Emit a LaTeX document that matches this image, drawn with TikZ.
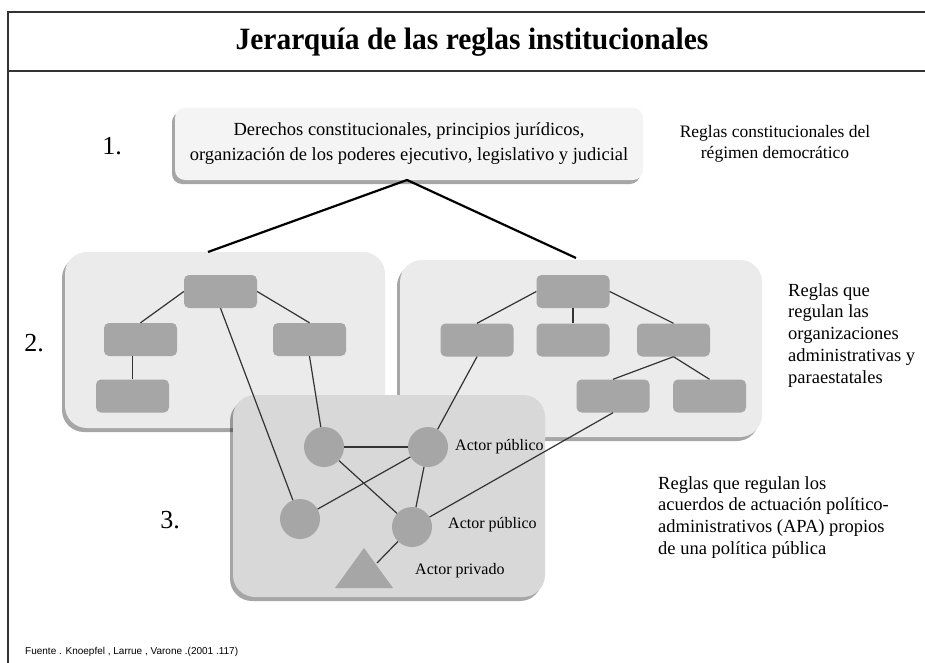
\documentclass[tikz,border=0pt]{standalone}
\usepackage{fontspec}
\setmainfont{Liberation Serif}
\newfontfamily\footfont{Liberation Sans}
\usetikzlibrary{shadows,calc}
\definecolor{panellight}{HTML}{EBEBEB}
\definecolor{paneldark}{HTML}{D8D8D8}
\definecolor{shapegray}{HTML}{A6A6A6}
\definecolor{topbox}{HTML}{F4F4F4}
\definecolor{linegray}{HTML}{333333}
\begin{document}
\begin{tikzpicture}[x=1pt,y=-1pt,
  panel/.style={rounded corners=22pt, inner sep=0pt, fill=panellight,
    drop shadow={shadow xshift=-3pt, shadow yshift=-4pt, fill=black, opacity=0.35}},
  actorpanel/.style={panel, fill=paneldark},
  topboxstyle/.style={rounded corners=10pt, inner sep=0pt, fill=topbox,
    minimum width=468pt, minimum height=72pt, align=center,
    font=\fontsize{18.5}{25}\selectfont,
    drop shadow={shadow xshift=-3pt, shadow yshift=-4pt, fill=black, opacity=0.35}},
  orgbox/.style={rounded corners=5pt, fill=shapegray, minimum width=73pt, minimum height=33pt, inner sep=0pt},
  actor/.style={circle, fill=shapegray, minimum size=40pt, inner sep=0pt},
  link/.style={draw=linegray, line width=1.2pt},
  hier/.style={draw=black, line width=2.2pt},
  frameline/.style={draw=linegray, line width=1.6pt},
  numlabel/.style={font=\fontsize{26}{30}\selectfont, inner sep=0pt},
  sidetext/.style={font=\fontsize{18.5}{21.8}\selectfont, align=left, inner sep=0pt},
  actortext/.style={font=\fontsize{16}{19}\selectfont, inner sep=0pt, anchor=west}
]
\useasboundingbox (0,0) rectangle (925,663);
\fill[white] (0,0) rectangle (925,663);

% frame
\coordinate (ftl) at (8,12);
\coordinate (ftr) at (925,12);
\coordinate (fbl) at (8,663);
\coordinate (fsl) at (8,71);
\coordinate (fsr) at (925,71);
\draw[frameline] (ftr) -- (ftl) -- (fbl);
\draw[frameline] (fsl) -- (fsr);

% title
\node[inner sep=0pt] (title) at (472,42) {\scalebox{0.952}[1]{\fontsize{31}{36}\selectfont\bfseries Jerarquía de las reglas institucionales}};

% level 1
\node[topboxstyle] (box1) at (409,144) {Derechos constitucionales, principios jurídicos,\\organización de los poderes ejecutivo, legislativo y judicial};
\node[numlabel] (n1) at (112,146) {1.};
\node[font=\fontsize{17.5}{21}\selectfont, align=center, inner sep=0pt] (t1) at (775,144) {Reglas constitucionales del\\régimen democrático};

% panels
\node[panel, minimum width=320pt, minimum height=176pt] (P2) at (225,340) {};
\node[panel, minimum width=362pt, minimum height=177pt] (P2b) at (581,348.5) {};

% lines from box1
\coordinate (apex) at (407,180);
\coordinate (hl) at (208,252);
\coordinate (hr) at (576,258);
\draw[hier] (hl) -- (apex) -- (hr);

% left organisation tree
\node[orgbox] (L0) at (220.5,291.5) {};
\node[orgbox] (L1) at (140.5,339.5) {};
\node[orgbox] (L2) at (309.5,339.5) {};
\node[orgbox] (L3) at (132.5,396) {};
% right organisation tree
\node[orgbox] (R0) at (573,291.5) {};
\node[orgbox] (R1) at (477,340) {};
\node[orgbox] (R2) at (573,340) {};
\node[orgbox] (R3) at (673.5,340) {};
\node[orgbox] (R4) at (613,396) {};
\node[orgbox] (R5) at (709.5,396) {};

\draw[link] (L0.west) -- (L1.north);
\draw[link] (L0.east) -- (L2.north);
\draw[link] (L1.south -| L3.north) -- (L3.north);
\draw[link] (R0.west) -- (R1.north);
\draw[link] (R0.south) -- (R2.north);
\draw[link] (R0.east) -- (R3.north);
\draw[link] (R3.south) -- (R4.north);
\draw[link] (R3.south) -- (R5.north);

% actor panel
\node[actorpanel, minimum width=312pt, minimum height=202pt] (P3) at (389,496) {};
\node[actor] (c1) at (324,447) {};
\node[actor] (c2) at (428,447) {};
\node[actor] (c3) at (300,519) {};
\node[actor] (c4) at (412,527) {};
\fill[shapegray] (335,588) -- (364,548) -- (393,588) -- cycle;
\coordinate (tri) at (377,563);

\draw[link] (L0.south) -- (c3);
\draw[link] (L2.south) -- (c1);
\draw[link] (R1.south) -- (c2);
\draw[link] (R4.south) -- (c4);
\draw[link] (c1) -- (c2);
\draw[link] (c1) -- (c4);
\draw[link] (c3) -- (c2);
\draw[link] (c2) -- (c4);
\draw[link] (c4) -- (tri);

\node[actortext] (a1) at (455,447) {Actor público};
\node[actortext] (a2) at (448,525) {Actor público};
\node[actortext] (a3) at (415,571) {Actor privado};

% numbers
\node[numlabel] (n2) at (34,343) {2.};
\node[numlabel] (n3) at (170,520) {3.};

% side texts
\node[sidetext, anchor=north west] (t2) at (788,283) {Reglas que\\regulan las\\organizaciones\\administrativas y\\paraestatales};
\node[sidetext, anchor=north west] (t3) at (658,476) {Reglas que regulan los\\acuerdos de actuación político-\\administrativos (APA) propios\\de una política pública};

% footer
\node[font=\footfont\fontsize{10}{12}\selectfont, anchor=west, inner sep=0pt] (foot) at (25,652) {Fuente . Knoepfel , Larrue , Varone .(2001 .117)};
\end{tikzpicture}
\end{document}
